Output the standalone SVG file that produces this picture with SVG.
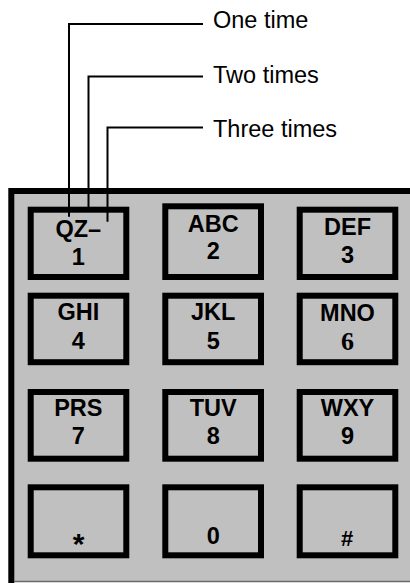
<svg xmlns="http://www.w3.org/2000/svg" width="410" height="583" viewBox="0 0 410 583">
<style>
.key rect{fill:#c0c0c0;stroke:#000;stroke-width:6}
.kt{font-family:"Liberation Sans",Arial,sans-serif;font-weight:bold;font-size:23.5px;text-anchor:middle;fill:#000}
.lbl{font-family:"Liberation Sans",Arial,sans-serif;font-size:23.5px;fill:#000}
.lead{fill:none;stroke:#000;stroke-width:2}
</style>
<g id="panel">
<rect x="11" y="191" width="410" height="391" fill="#c0c0c0"/>
<path d="M11.3,583 V191 H410" fill="none" stroke="#000" stroke-width="6"/>
<line x1="14" y1="581.5" x2="410" y2="581.5" stroke="#6a6a6a" stroke-width="1.5"/>
</g>
<g id="key1" class="key"><rect x="30.7" y="209.7" width="95.6" height="67.3"/><text class="kt" x="78.3" y="236.5">QZ–</text><text class="kt" x="78.3" y="264.5">1</text></g>
<g id="key2" class="key"><rect x="165.3" y="206.3" width="95.7" height="70.7"/><text class="kt" x="213.2" y="231.7">ABC</text><text class="kt" x="213.2" y="259.3">2</text></g>
<g id="key3" class="key"><rect x="299.7" y="209.7" width="95.6" height="67.3"/><text class="kt" x="347.5" y="235.2">DEF</text><text class="kt" x="347.5" y="263.3">3</text></g>
<g id="key4" class="key"><rect x="30.7" y="295.7" width="95.6" height="66.5"/><text class="kt" x="78.3" y="320.3">GHI</text><text class="kt" x="78.3" y="348.5">4</text></g>
<g id="key5" class="key"><rect x="165.3" y="295.7" width="95.7" height="66.5"/><text class="kt" x="213.2" y="320.3">JKL</text><text class="kt" x="213.2" y="348.5">5</text></g>
<g id="key6" class="key"><rect x="299.7" y="295.7" width="95.6" height="66.5"/><text class="kt" x="347.5" y="320.8">MNO</text><text class="kt" x="347.5" y="350" style="font-family:'Liberation Serif','Times New Roman',serif;font-size:26px">6</text></g>
<g id="key7" class="key"><rect x="30.7" y="392" width="95.6" height="66.7"/><text class="kt" x="78.3" y="416">PRS</text><text class="kt" x="78.3" y="444">7</text></g>
<g id="key8" class="key"><rect x="165.3" y="392" width="95.7" height="66.7"/><text class="kt" x="213.2" y="416">TUV</text><text class="kt" x="213.2" y="444">8</text></g>
<g id="key9" class="key"><rect x="299.7" y="392" width="95.6" height="66.7"/><text class="kt" x="347.5" y="416">WXY</text><text class="kt" x="347.5" y="444">9</text></g>
<g id="keystar" class="key"><rect x="30.7" y="487.3" width="95.6" height="68"/><text class="kt" x="78.7" y="554" style="font-size:30px">*</text></g>
<g id="key0" class="key"><rect x="165.3" y="487.3" width="95.7" height="68"/><text class="kt" x="213.3" y="544">0</text></g>
<g id="keyhash" class="key"><rect x="299.7" y="487.3" width="95.6" height="68"/><text class="kt" x="347.2" y="545.5" style="font-size:22px">#</text></g>
<g id="connectors">
<path class="lead" d="M203,24 H69 V216.7"/>
<path class="lead" d="M203,76.5 H88.5 V207"/>
<path class="lead" d="M203,127.5 H107.5 V221.7"/>
</g>
<g id="labels">
<text class="lbl" x="213" y="28.3">One time</text>
<text class="lbl" x="213" y="83.3">Two times</text>
<text class="lbl" x="213" y="137.3">Three times</text>
</g>
</svg>
